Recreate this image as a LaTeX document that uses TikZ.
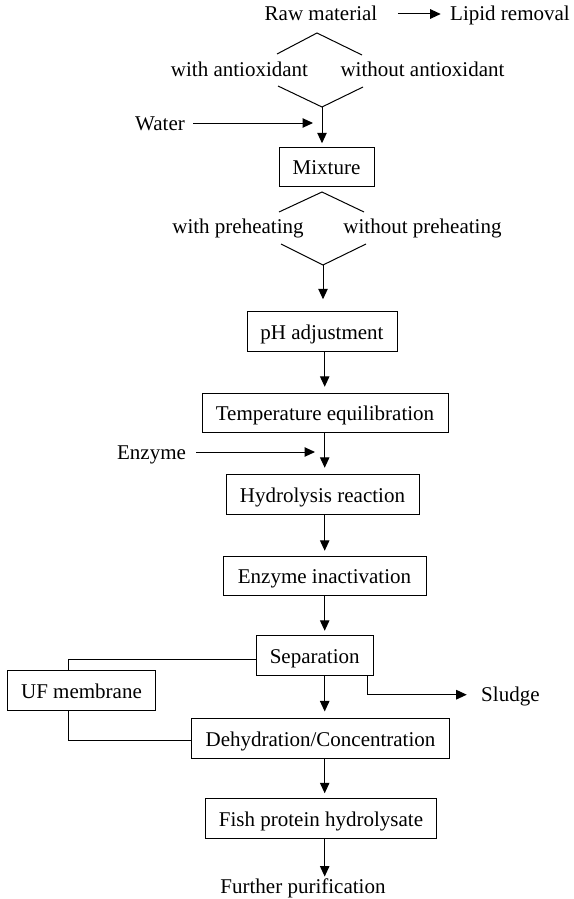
\documentclass[tikz,border=0pt]{standalone}
\usepackage{fontspec}
\setmainfont{Liberation Serif}
\usetikzlibrary{arrows.meta}
\begin{document}
\begin{tikzpicture}[x=1pt,y=-1pt,
  font=\fontsize{21}{25}\selectfont,
  every path/.style={line width=1pt},
  stepbox/.style={draw, line width=1pt, inner sep=0pt, minimum width=#1,
    minimum height=39.5pt, text height=15.5pt, text depth=0pt},
  lbl/.style={inner sep=0pt, text height=14pt, text depth=0pt, anchor=base},
  arr/.style={-{Triangle[length=10.5pt,width=9.5pt]}},
  branch/.style={line width=1pt}]
\useasboundingbox (0,0) rectangle (573,899);

% raw material and lipid removal
\node[lbl] (raw) at (321,21) {Raw material};
\node[lbl] (lipid) at (510,21) {Lipid removal};
\draw[arr] ([xshift=20pt]raw.east) -- ([xshift=-9pt]lipid.west);

% antioxidant split
\coordinate (d1t) at (317,33);
\coordinate (d1l) at (277,54);
\coordinate (d1r) at (362,55);
\coordinate (d1bl) at (278,86);
\coordinate (d1b) at (322,107);
\coordinate (d1br) at (363,87);
\draw[branch] (d1l) -- (d1t) -- (d1r);
\draw[branch] (d1bl) -- (d1b) -- (d1br);
\node[lbl] (withA) at (239.5,76) {with antioxidant};
\node[lbl] (woA) at (422.5,76) {without antioxidant};

% water feed and mixture
\node[stepbox=95pt] (mix) at (326.5,167) {Mixture};
\draw[arr, shorten >=3.5pt] (d1b) -- (d1b |- mix.north);
\node[lbl] (water) at (160,130) {Water};
\coordinate (wtip) at (313,123);
\draw[arr] ([xshift=8pt]water.east) -- (wtip);

% preheating split
\coordinate (d2t) at (322,192);
\coordinate (d2l) at (279,212);
\coordinate (d2r) at (364,212);
\coordinate (d2bl) at (281,244);
\coordinate (d2b) at (323,265);
\coordinate (d2br) at (366,244);
\draw[branch] (d2l) -- (d2t) -- (d2r);
\draw[branch] (d2bl) -- (d2b) -- (d2br);
\node[lbl] (withP) at (238,233) {with preheating};
\node[lbl] (woP) at (422.5,233) {without preheating};

% main process chain
\node[stepbox=150pt] (ph) at (322,331.5) {pH adjustment};
\node[stepbox=246pt] (temp) at (325,413) {Temperature equilibration};
\node[stepbox=193pt] (hyd) at (322.5,494.5) {Hydrolysis reaction};
\node[stepbox=203pt] (inact) at (324.5,576) {Enzyme inactivation};
\node[stepbox=117pt] (sep) at (314.7,655.5) {Separation};
\node[stepbox=148pt] (uf) at (81.5,690.3) {UF membrane};
\node[stepbox=257.6pt] (dehyd) at (320.5,738.7) {Dehydration/Concentration};
\node[stepbox=231.7pt] (fish) at (321,818.5) {Fish protein hydrolysate};
\node[lbl] (further) at (303,893) {Further purification};

\coordinate (ax) at (324.7,0);
\draw[arr, shorten >=12pt] (d2b) -- (d2b |- ph.north);
\draw[arr, shorten >=6pt] (ax |- ph.south) -- (ax |- temp.north);
\draw[arr, shorten >=6.5pt] (ax |- temp.south) -- (ax |- hyd.north);
\draw[arr, shorten >=5pt] (ax |- hyd.south) -- (ax |- inact.north);
\draw[arr, shorten >=4.5pt] (ax |- inact.south) -- (ax |- sep.north);
\draw[arr, shorten >=7pt] (ax |- sep.south) -- (ax |- dehyd.north);
\draw[arr, shorten >=5pt] (ax |- dehyd.south) -- (ax |- fish.north);
\draw[arr, shorten >=2pt] (ax |- fish.south) -- (ax |- further.north);

% enzyme feed
\node[lbl] (enzyme) at (151.5,459) {Enzyme};
\coordinate (etip) at (315,452);
\draw[arr] ([xshift=10pt]enzyme.east) -- (etip);

% sludge outlet
\node[lbl] (sludge) at (510.4,701.7) {Sludge};
\coordinate (slx) at (367.7,0);
\draw[arr] (slx |- sep.south) |- ([xshift=-14pt]sludge.west);

% ultrafiltration bypass
\coordinate (ufx) at (68.5,0);
\draw ([yshift=-4pt]sep.west) -| (ufx |- uf.north);
\draw (ufx |- uf.south) |- ([yshift=-2pt]dehyd.west);
\end{tikzpicture}
\end{document}
